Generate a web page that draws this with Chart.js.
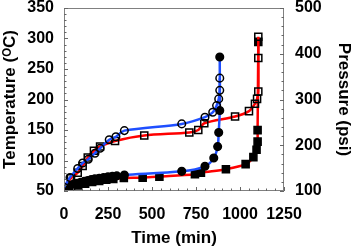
<!DOCTYPE html>
<html><head><meta charset="utf-8">
<script src="https://cdn.jsdelivr.net/npm/chart.js@4.4.1/dist/chart.umd.min.js"></script>
<style>html,body{margin:0;padding:0;background:#fff}#wrap{width:354px;height:249px}</style>
</head><body><div id="wrap"><canvas id="c" width="354" height="249"></canvas></div>
<script>
// Blue series, open circles: temperature (left axis)
const blueOpenTime = [0, 34, 78, 106, 138, 176, 205, 257, 295, 343, 669, 801, 845, 867, 879, 885, 885];
const blueOpenTemp = [56, 72, 87, 96, 102, 112, 120, 134, 139, 149, 160, 171, 179, 190, 201, 215, 235];
// Blue series, filled circles: pressure (right axis)
const blueFillTime = [0, 10, 25, 40, 55, 75, 95, 115, 135, 155, 175, 200, 225, 250, 275, 300, 343, 669, 801, 851, 873, 879, 885, 885];
const blueFillPres = [103, 106, 109, 112, 114, 117, 119, 121, 123, 125, 126.5, 128, 129.5, 131, 132, 133, 135, 143, 154, 172, 197, 228, 276, 393];
// Red series, open squares: temperature (left axis)
const redOpenTime = [0, 40, 78, 106, 135, 170, 205, 290, 456, 712, 763, 797, 972, 1051, 1085, 1097, 1104, 1104, 1104];
const redOpenTemp = [56, 71, 80, 91, 105, 116, 123, 132, 141, 146, 150, 161, 172, 181, 193, 201, 213, 268, 303];
// Red series, filled squares: pressure (right axis)
const redFillTime = [0, 40, 80, 120, 160, 200, 240, 280, 340, 447, 542, 744, 778, 920, 1032, 1076, 1094, 1100, 1100, 1104];
const redFillPres = [102, 108, 112, 116, 119.5, 122, 124.5, 126.5, 128.5, 129.2, 131.4, 136.7, 140.2, 147.7, 158.7, 174, 190, 208, 233, 426];

const xTicks = [0, 250, 500, 750, 1000, 1250];
const tempTicks = [50, 100, 150, 200, 250, 300, 350];
const presTicks = [100, 200, 300, 400, 500];

function pts(xs, ys){ return xs.map((x,i)=>({x:x, y:ys[i]})); }

const BLUE = '#1f4fff', RED = '#ff0000';
const FONT = {family:'"Liberation Sans", Arial, sans-serif', size:16, weight:'bold'};
const TFONT = {family:'"Liberation Sans", Arial, sans-serif', size:17, weight:'bold'};

const innerTicks = {
  id:'innerTicks',
  afterDraw(chart){
    const ctx = chart.ctx, a = chart.chartArea;
    const x = chart.scales.x, yl = chart.scales.yT, yr = chart.scales.yP;
    ctx.save();
    ctx.strokeStyle = '#808080'; ctx.lineWidth = 1;
    ctx.strokeRect(a.left+0.5, a.top+0.5, a.right-a.left-1, a.bottom-a.top-1);
    ctx.strokeStyle = '#666';
    for (let v=0; v<=1250; v+=50){
      const p = Math.round(x.getPixelForValue(v))+0.5, L = (v%250===0)?4:2.5;
      ctx.beginPath(); ctx.moveTo(p, a.bottom); ctx.lineTo(p, a.bottom-L); ctx.stroke();
    }
    for (let v=50; v<=350; v+=10){
      const p = Math.round(yl.getPixelForValue(v))+0.5, L = (v%50===0)?4:2.5;
      ctx.beginPath(); ctx.moveTo(a.left, p); ctx.lineTo(a.left+L, p); ctx.stroke();
    }
    for (let v=100; v<=500; v+=20){
      const p = Math.round(yr.getPixelForValue(v))+0.5, L = (v%100===0)?4:2.5;
      ctx.beginPath(); ctx.moveTo(a.right, p); ctx.lineTo(a.right-L, p); ctx.stroke();
    }
    ctx.restore();
  }
};

const ds = (label, data, axis, color, style, fill, r, order) => ({
  label, data, yAxisID: axis, showLine:true, borderColor: color, borderWidth:2.5,
  pointStyle: style, pointRadius: r, pointBorderColor:'#000', pointBorderWidth:1.5,
  pointBackgroundColor: fill, tension:0.3, order
});

const zeroPad = s => { s.paddingTop = 0; s.paddingBottom = 0; s.paddingLeft = 0; s.paddingRight = 0; };

new Chart(document.getElementById('c'), {
  type:'scatter',
  data:{ datasets:[
    ds('T blue', pts(blueOpenTime, blueOpenTemp), 'yT', BLUE, 'circle', 'rgba(255,255,255,0)', 3.8, 1),
    ds('P blue', pts(blueFillTime, blueFillPres), 'yP', BLUE, 'circle', '#000', 3.8, 2),
    ds('T red', pts(redOpenTime, redOpenTemp), 'yT', RED, 'rect', 'rgba(255,255,255,0)', 5, 3),
    ds('P red', pts(redFillTime, redFillPres), 'yP', RED, 'rect', '#000', 5, 4)
  ]},
  options:{
    responsive:false, animation:false, devicePixelRatio:1,
    layout:{padding:{top:8, left:0, right:0, bottom:0}},
    plugins:{legend:{display:false}, tooltip:{enabled:false}},
    scales:{
      x:{ type:'linear', min:0, max:1250,
        afterBuildTicks: s => { s.ticks = xTicks.map(v=>({value:v})); },
        afterFit: s => { s.height = 58; zeroPad(s); },
        grid:{display:true, drawOnChartArea:false, drawTicks:false},
        border:{display:false},
        ticks:{font:FONT, color:'#000', padding:14, maxRotation:0, callback: v => String(v)},
        title:{display:true, text:'Time (min)', font:TFONT, color:'#000', padding:{top:4,bottom:0}}
      },
      yT:{ type:'linear', position:'left', min:50, max:350,
        afterBuildTicks: s => { s.ticks = tempTicks.map(v=>({value:v})); },
        afterFit: s => { s.width = 64; zeroPad(s); },
        grid:{display:true, drawOnChartArea:false, drawTicks:false},
        border:{display:false},
        ticks:{font:FONT, color:'#000', padding:10, callback: v => String(v)},
        title:{display:true, text:'Temperature (ᴼC)', font:TFONT, color:'#000', padding:{top:0,bottom:0}}
      },
      yP:{ type:'linear', position:'right', min:100, max:500,
        afterBuildTicks: s => { s.ticks = presTicks.map(v=>({value:v})); },
        afterFit: s => { s.width = 70; zeroPad(s); },
        grid:{display:true, drawOnChartArea:false, drawTicks:false},
        border:{display:false},
        ticks:{font:FONT, color:'#000', padding:11, callback: v => String(v)},
        title:{display:true, text:'Pressure (psi)', font:TFONT, color:'#000', padding:{top:0,bottom:2}}
      }
    }
  },
  plugins:[innerTicks]
});
</script></body></html>
